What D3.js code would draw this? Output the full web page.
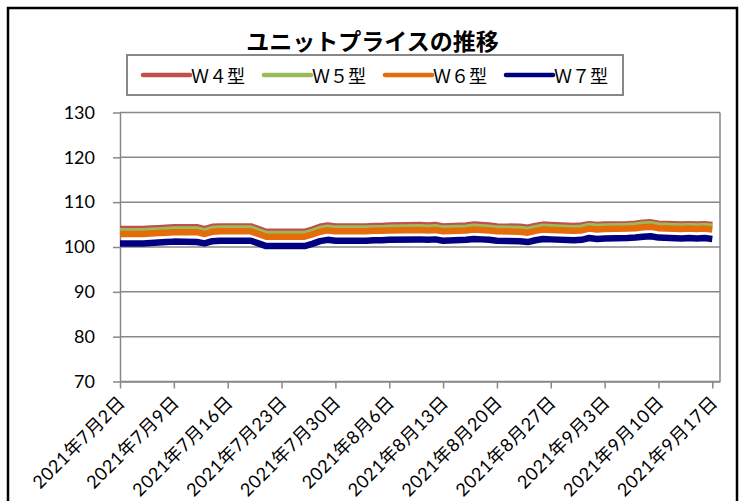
<!DOCTYPE html>
<html>
<head>
<meta charset="utf-8">
<script src="https://cdn.jsdelivr.net/npm/d3@7"></script>
<style>
body { margin: 0; background: #fff; }
</style>
</head>
<body>
<div id="chart"></div>
<script>
// business days, Jul 2 - Sep 17 2021 (holidays skipped)
const dates = [
  "2021-07-02",
  "2021-07-05", "2021-07-06", "2021-07-07", "2021-07-08", "2021-07-09",
  "2021-07-12", "2021-07-13", "2021-07-14", "2021-07-15", "2021-07-16",
  "2021-07-19", "2021-07-20", "2021-07-21",
  "2021-07-26", "2021-07-27", "2021-07-28", "2021-07-29", "2021-07-30",
  "2021-08-02", "2021-08-03", "2021-08-04", "2021-08-05", "2021-08-06",
  "2021-08-10", "2021-08-11", "2021-08-12", "2021-08-13",
  "2021-08-16", "2021-08-17", "2021-08-18", "2021-08-19", "2021-08-20",
  "2021-08-23", "2021-08-24", "2021-08-25", "2021-08-26", "2021-08-27",
  "2021-08-30", "2021-08-31", "2021-09-01", "2021-09-02", "2021-09-03",
  "2021-09-06", "2021-09-07", "2021-09-08", "2021-09-09", "2021-09-10",
  "2021-09-13", "2021-09-14", "2021-09-15", "2021-09-16", "2021-09-17"
];

const w4 = [
  104.0,
  104.0, 104.1, 104.2, 104.3, 104.4,
  104.4, 104.0, 104.5, 104.6, 104.6,
  104.6, 104.0, 103.4,
  103.4, 103.9, 104.5, 104.8, 104.6,
  104.6, 104.6, 104.7, 104.7, 104.8,
  104.9, 104.8, 104.9, 104.6,
  104.8, 105.0, 104.9, 104.8, 104.6,
  104.5, 104.3, 104.7, 105.0, 104.9,
  104.7, 104.8, 105.1, 104.9, 105.0,
  105.1, 105.2, 105.4, 105.5, 105.2,
  105.0, 105.1, 105.0, 105.1, 104.9
];
const w5 = [
  103.5,
  103.5, 103.6, 103.7, 103.8, 103.9,
  103.9, 103.5, 104.0, 104.1, 104.1,
  104.1, 103.5, 102.9,
  102.9, 103.4, 104.0, 104.3, 104.1,
  104.1, 104.1, 104.2, 104.2, 104.3,
  104.4, 104.3, 104.4, 104.1,
  104.3, 104.5, 104.4, 104.3, 104.1,
  104.0, 103.8, 104.2, 104.5, 104.4,
  104.2, 104.3, 104.7, 104.5, 104.6,
  104.7, 104.8, 105.0, 105.1, 104.8,
  104.6, 104.7, 104.6, 104.7, 104.5
];
const w6 = [
  102.9,
  102.9, 103.0, 103.1, 103.2, 103.3,
  103.3, 102.9, 103.4, 103.5, 103.5,
  103.5, 102.9, 102.3,
  102.3, 102.8, 103.4, 103.7, 103.5,
  103.5, 103.5, 103.6, 103.6, 103.7,
  103.8, 103.7, 103.8, 103.5,
  103.7, 103.9, 103.8, 103.7, 103.5,
  103.4, 103.2, 103.6, 103.9, 103.8,
  103.6, 103.7, 104.1, 103.9, 104.0,
  104.1, 104.2, 104.4, 104.5, 104.2,
  104.0, 104.1, 104.0, 104.1, 103.9
];
const w7 = [
  100.8,
  100.8, 100.9, 101.0, 101.1, 101.2,
  101.1, 100.8, 101.3, 101.4, 101.4,
  101.4, 100.8, 100.2,
  100.2, 100.7, 101.3, 101.6, 101.4,
  101.4, 101.4, 101.5, 101.5, 101.6,
  101.7, 101.6, 101.7, 101.4,
  101.6, 101.8, 101.7, 101.6, 101.4,
  101.3, 101.1, 101.5, 101.8, 101.7,
  101.5, 101.6, 102.0, 101.8, 101.9,
  102.0, 102.1, 102.3, 102.4, 102.1,
  101.9, 102.0, 101.9, 102.0, 101.8
];

const seriesNames = ["Ｗ４型", "Ｗ５型", "Ｗ６型", "Ｗ７型"];
const seriesColors = ["#C0504D", "#9BBB59", "#E46C0A", "#000080"];
const yTicks = [70, 80, 90, 100, 110, 120, 130];
const xTickDates = [
  "2021-07-02", "2021-07-09", "2021-07-16", "2021-07-23", "2021-07-30", "2021-08-06",
  "2021-08-13", "2021-08-20", "2021-08-27", "2021-09-03", "2021-09-10", "2021-09-17"
];

const width = 745, height = 501;
const parse = d3.timeParse("%Y-%m-%d");
const labelFont = "Lato, 'Noto Sans CJK JP', sans-serif";

const svg = d3.select("#chart")
  .append("svg")
  .attr("width", width)
  .attr("height", height);

// chart frame
svg.append("rect")
  .attr("x", 8).attr("y", 8)
  .attr("width", 729).attr("height", 520)
  .attr("fill", "#fff")
  .attr("stroke", "#000")
  .attr("stroke-width", 2.5);

const x = d3.scaleTime()
  .domain([parse("2021-07-02"), parse("2021-09-18")])
  .range([120, 720]);

const y = d3.scaleLinear()
  .domain([70, 130])
  .range([381.5, 112.5]);

// gridlines
svg.append("g")
  .selectAll("line")
  .data(yTicks)
  .join("line")
  .attr("x1", 120).attr("x2", 720)
  .attr("y1", d => y(d)).attr("y2", d => y(d))
  .attr("stroke", "#888")
  .attr("stroke-width", 1.5);

// right border of plot
svg.append("line")
  .attr("x1", 720).attr("x2", 720)
  .attr("y1", y(130)).attr("y2", y(70))
  .attr("stroke", "#888")
  .attr("stroke-width", 1.5);

// y axis
const yAxis = svg.append("g")
  .attr("transform", "translate(120,0)")
  .call(d3.axisLeft(y).tickValues(yTicks).tickSize(7).tickPadding(18).tickSizeOuter(0));
yAxis.select(".domain").attr("stroke", "#888").attr("stroke-width", 1.5);
yAxis.selectAll(".tick line").attr("stroke", "#888").attr("stroke-width", 1.5);
yAxis.selectAll("text")
  .style("font-family", labelFont)
  .style("font-size", "18px")
  .attr("fill", "#000");

// x axis
const fmt = d => `${d.getFullYear()}年${d.getMonth() + 1}月${d.getDate()}日`;
const xAxis = svg.append("g")
  .attr("transform", `translate(0,${y(70)})`)
  .call(d3.axisBottom(x).tickValues(xTickDates.map(parse)).tickFormat(fmt).tickSize(7).tickSizeOuter(0));
xAxis.select(".domain").attr("stroke", "#888").attr("stroke-width", 1.5);
xAxis.selectAll(".tick line").attr("stroke", "#888").attr("stroke-width", 1.5);
xAxis.selectAll("text")
  .attr("y", 0).attr("dy", 0)
  .attr("transform", "translate(6,22) rotate(-45)")
  .attr("text-anchor", "end")
  .style("font-family", labelFont)
  .style("font-size", "18px")
  .style("letter-spacing", "0.6px")
  .attr("fill", "#000");

// lines
const series = [w4, w5, w6, w7];
const line = d3.line()
  .x((d, i) => x(parse(dates[i])))
  .y(d => y(d));

svg.append("g")
  .selectAll("path")
  .data(series)
  .join("path")
  .attr("d", d => line(d))
  .attr("fill", "none")
  .attr("stroke", (d, i) => seriesColors[i])
  .attr("stroke-width", 6.5)
  .attr("stroke-linejoin", "round");

// title
svg.append("text")
  .attr("x", 372.5)
  .attr("y", 50)
  .attr("text-anchor", "middle")
  .style("font-family", "'Noto Sans CJK JP', sans-serif")
  .style("font-weight", "bold")
  .style("font-size", "23px")
  .text("ユニットプライスの推移");

// legend
svg.append("rect")
  .attr("x", 127).attr("y", 55)
  .attr("width", 496).attr("height", 40)
  .attr("fill", "#fff")
  .attr("stroke", "#888")
  .attr("stroke-width", 2);

const leg = svg.append("g")
  .selectAll("g")
  .data(seriesNames)
  .join("g")
  .attr("transform", (d, i) => `translate(${143 + i * 121},75)`);

leg.append("line")
  .attr("x1", 0).attr("x2", 47)
  .attr("stroke", (d, i) => seriesColors[i])
  .attr("stroke-width", 4.5)
  .attr("stroke-linecap", "round");

leg.append("text")
  .attr("x", 48)
  .attr("dominant-baseline", "central")
  .style("font-family", "'Noto Sans CJK JP', sans-serif")
  .style("font-size", "18px")
  .text(d => d);
</script>
</body>
</html>
